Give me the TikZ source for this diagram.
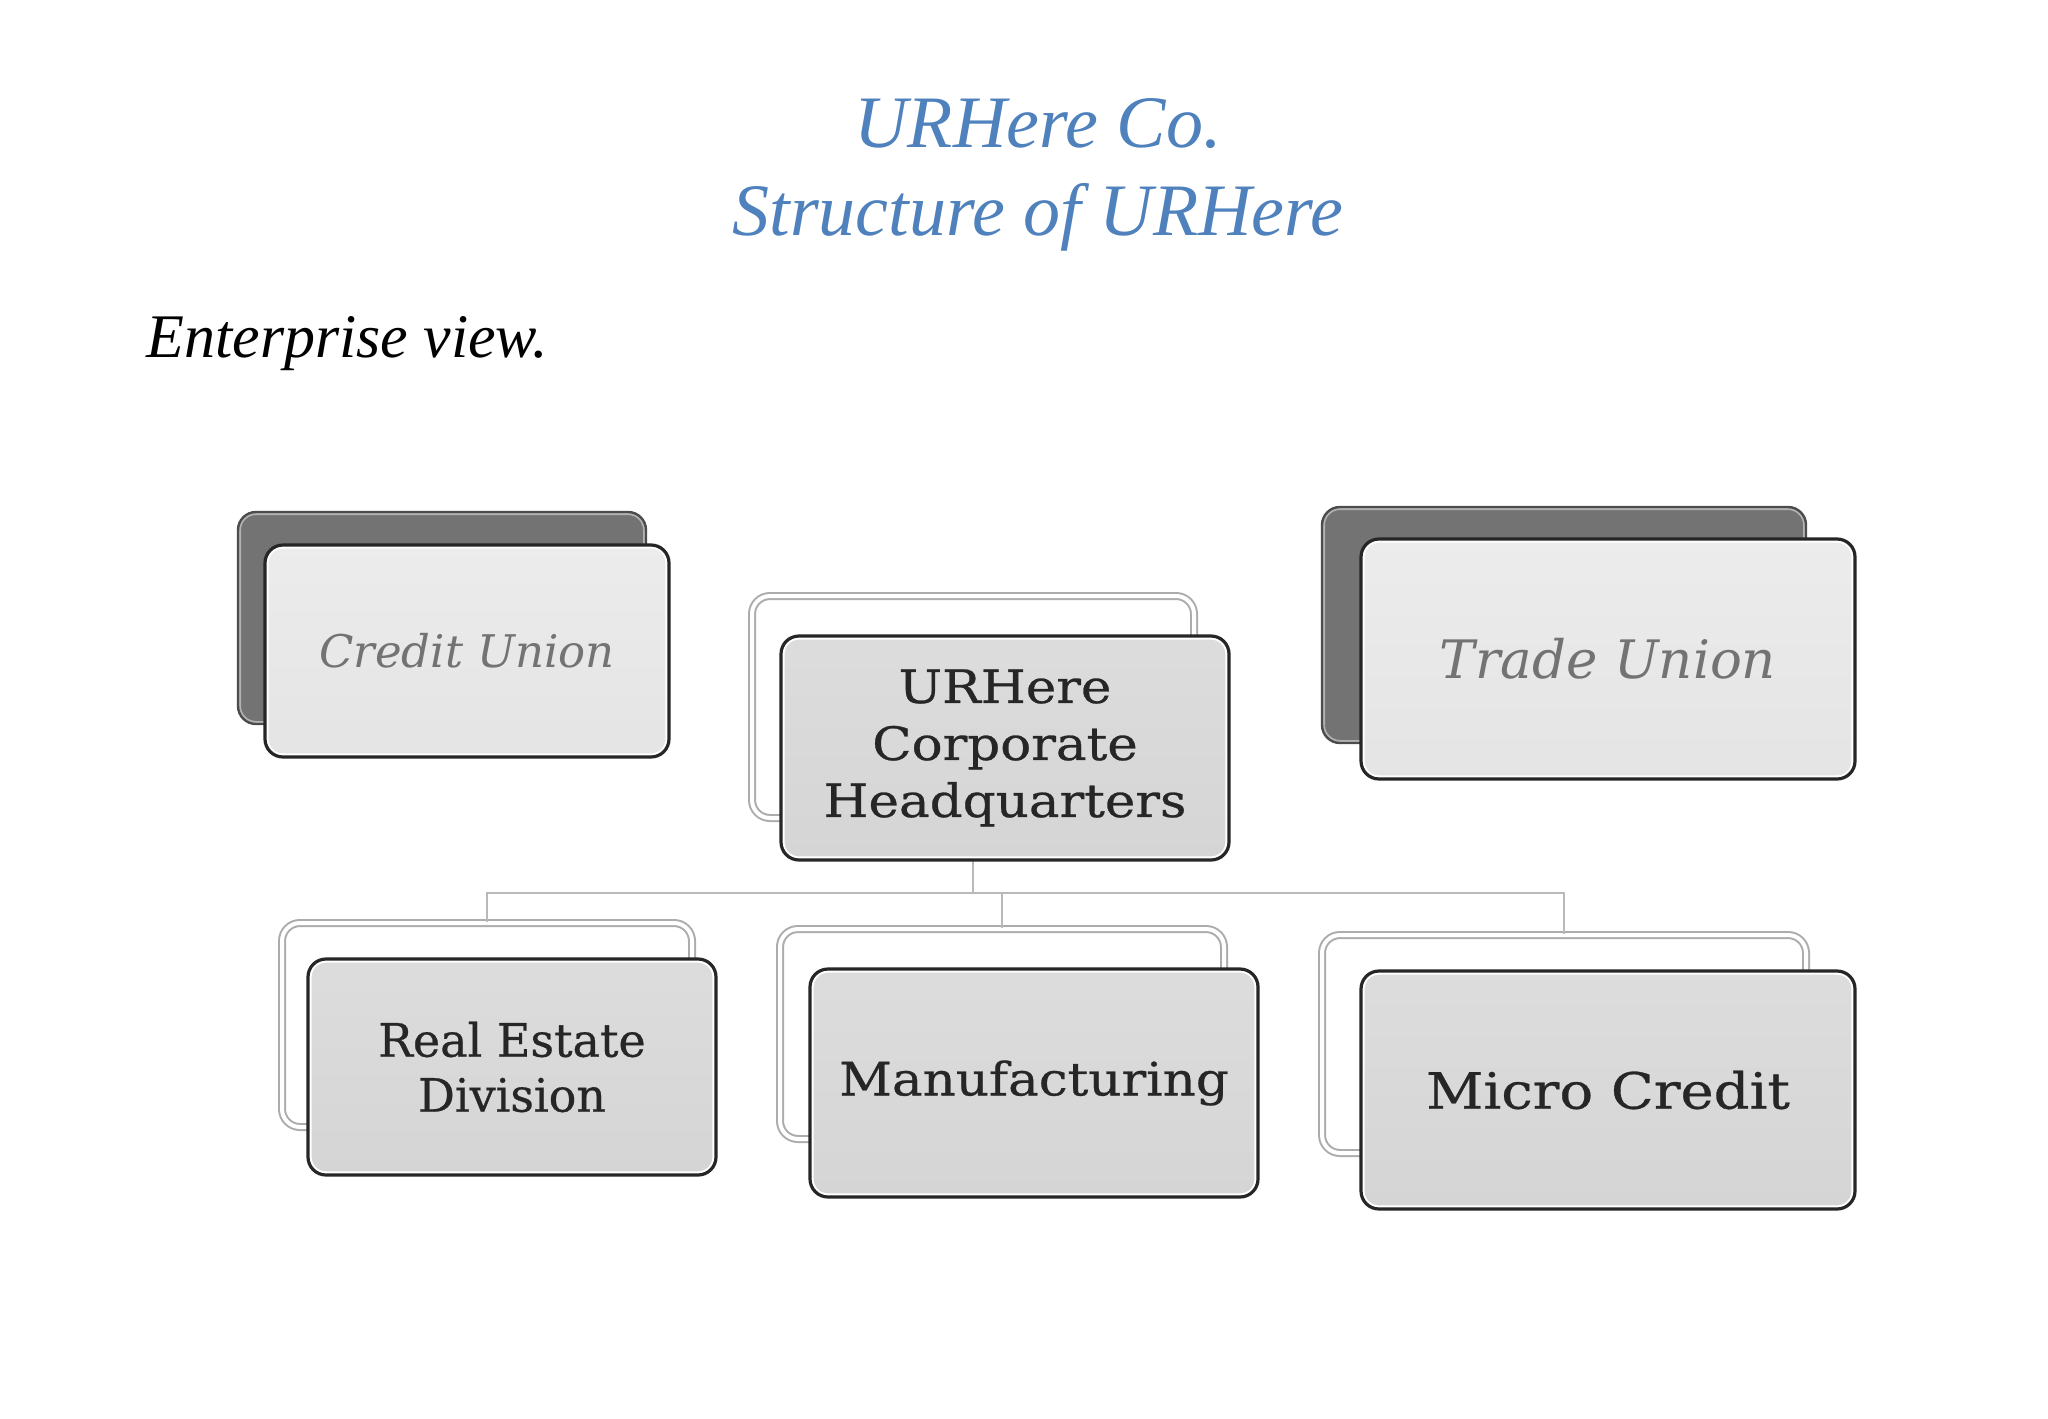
\documentclass[tikz,border=0pt]{standalone}
\usepackage{fontspec}
\setmainfont{Liberation Serif}
\newfontfamily\boxfont[FakeStretch=1.12, FakeBold=0.6]{DejaVu Serif}
\newfontfamily\narrowboxfont[FakeBold=0.6]{DejaVu Serif}
\newfontfamily\unionfont{DejaVu Serif}
\usepackage{tikz}
\definecolor{titleblue}{HTML}{4F81BD}

\begin{document}
\begin{tikzpicture}[x=0.5pt, y=-0.5pt,
  unit/.style = {rounded corners=9pt, inner sep=0pt, align=center},
  front/.style = {unit, draw=black!85, line width=1.6pt, top color=gray!27, bottom color=gray!33,
    font=\boxfont\fontsize{23}{28.5}\selectfont, text=black!85,
    path picture={\draw[white, line width=3.6pt, rounded corners=9pt]
      (path picture bounding box.south west) rectangle (path picture bounding box.north east);}},
  pale/.style = {top color=gray!15, bottom color=gray!21, text=black!55},
  lightback/.style = {unit, draw=gray!65, line width=1pt, double=white, double distance=2pt, fill=white},
  darkback/.style = {unit, draw=black!70, line width=1.2pt, fill=black!55,
    path picture={\draw[black!30, line width=3pt, rounded corners=9pt]
      (path picture bounding box.south west) rectangle (path picture bounding box.north east);}},
  link/.style = {draw=gray!55, line width=0.6pt}]
\useasboundingbox (0,0) rectangle (2048,1418);

% titles
\node (title) at (1038,175) [font=\itshape\fontsize{37}{44}\selectfont, text=titleblue, align=center]
  {URHere Co.\\Structure of URHere};
\node (view) at (146,344) [anchor=west, inner sep=0pt, font=\itshape\fontsize{31}{38}\selectfont] {Enterprise view.};

% back plates
\node[darkback, minimum width=204pt, minimum height=106pt] (cub) at (442,618) {};
\node[lightback, minimum width=221pt, minimum height=111pt] (hqb) at (973,707) {};
\node[darkback, minimum width=242pt, minimum height=118pt] (tub) at (1564,625) {};
\node[lightback, minimum width=205pt, minimum height=102pt] (reb) at (487,1025) {};
\node[lightback, minimum width=222pt, minimum height=105pt] (mfb) at (1002,1034) {};
\node[lightback, minimum width=242pt, minimum height=109pt] (mcb) at (1564,1044) {};

% connectors
\path (hqb.south) ++(0,74) coordinate (bus);
\draw[link] (hqb.south) -- (bus);
\draw[link] (bus) -| (reb.north);
\draw[link] (bus) -| (mfb.north);
\draw[link] (bus) -| (mcb.north);

% front plates
\node[front, pale, minimum width=202pt, minimum height=106pt, font=\unionfont\itshape\fontsize{22.5}{27}\selectfont]
  (cu) at (467,651) {Credit Union};
\node[front, minimum width=224pt, minimum height=112pt] (hq) at (1005,748) {URHere\\Corporate\\Headquarters};
\node[front, pale, minimum width=247pt, minimum height=120pt, font=\unionfont\itshape\fontsize{26.5}{31}\selectfont]
  (tu) at (1608,659) {Trade Union};
\node[front, minimum width=204pt, minimum height=108pt, font=\narrowboxfont\fontsize{23}{27.5}\selectfont]
  (re) at (512,1067) {Real Estate\\Division};
\node[front, minimum width=224pt, minimum height=114pt] (mf) at (1034,1083) {Manufacturing};
\node[front, minimum width=247pt, minimum height=119pt, font=\boxfont\fontsize{25}{30}\selectfont]
  (mc) at (1608,1090) {Micro Credit};
\end{tikzpicture}
\end{document}
